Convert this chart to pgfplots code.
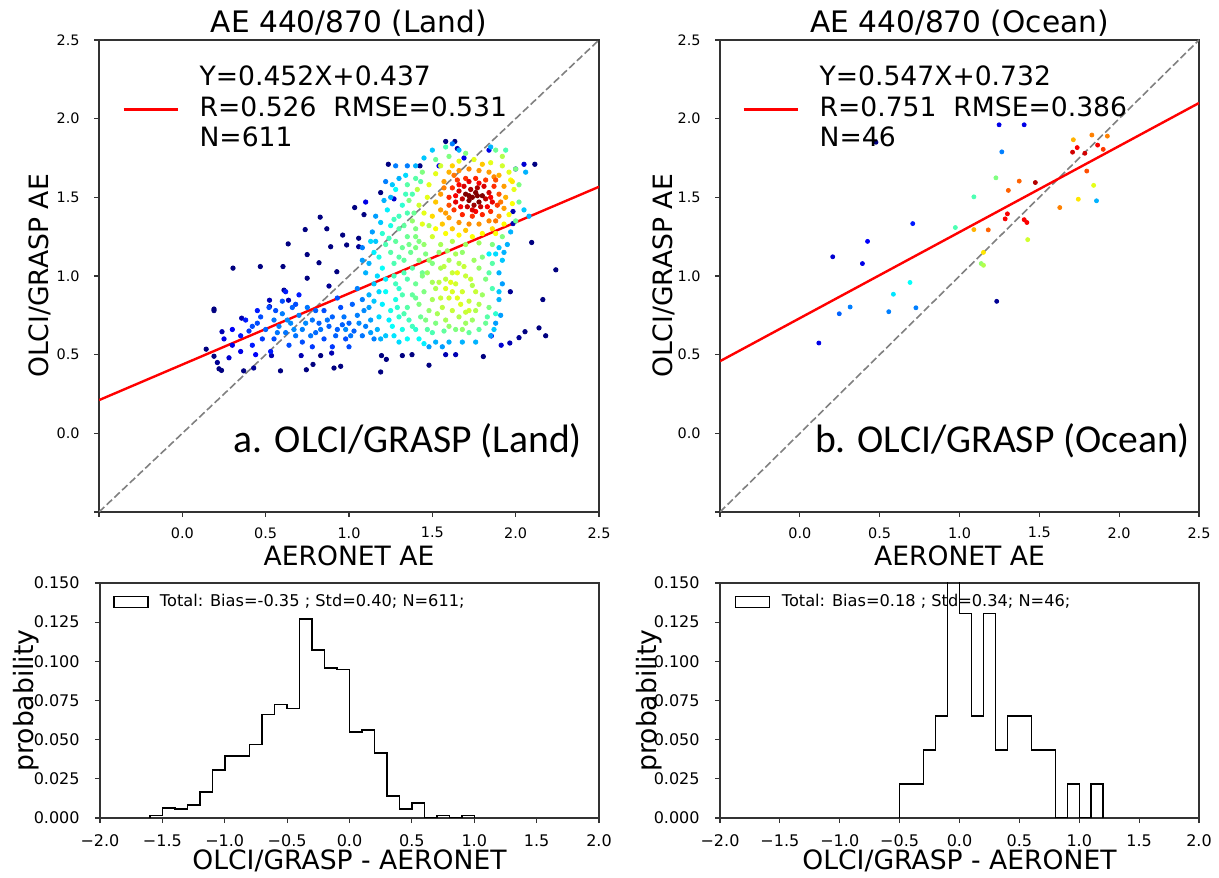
\documentclass[border=0pt]{standalone}
\usepackage{pgfplots}
\usepackage{pgfplotstable}
\pgfplotsset{compat=1.18}
\usepackage{fontspec}
\setmainfont{DejaVu Sans}
\newfontfamily\carlito{Carlito}

\pgfplotstableread{
x y c
1.58 1.855 0
1.635 1.855 0
1.65 1.81 0.05
1.426 1.70 0
1.54 1.70 0.1
1.69 1.75 0.1
1.84 1.80 0.1
2.05 1.71 0.08
2.00 1.68 0.1
2.115 1.71 0
1.236 1.71 0
1.19 1.53 0
1.27 1.49 0.08
1.034 1.435 0
1.09 1.39 0
0.827 1.374 0
0.737 1.295 0
0.867 1.30 0
0.635 1.204 0
0.962 1.26 0
0.986 1.197 0
1.058 1.24 0
1.058 1.186 0.02
0.89 1.186 0
0.749 1.136 0
0.82 1.084 0
0.304 1.05 0
0.468 1.06 0
0.604 1.06 0
0.927 1.027 0
0.749 0.986 0
0.61 0.91 0.02
0.88 0.936 0.02
0.523 0.846 0.05
0.523 0.805 0.05
0.637 0.846 0.05
0.19 0.79 0
0.19 0.78 0
0.356 0.732 0.05
0.238 0.646 0.05
0.143 0.535 0
0.19 0.49 0
0.21 0.45 0.02
0.22 0.41 0
0.235 0.40 0
0.368 0.397 0
0.428 0.415 0.02
0.535 0.494 0.05
0.589 0.397 0
0.713 0.494 0.05
0.744 0.404 0
0.784 0.438 0
0.83 0.494 0
0.91 0.415 0
0.95 0.426 0
0.896 0.51 0.05
1.195 0.494 0
1.224 0.47 0
1.19 0.39 0
1.32 0.494 0
1.378 0.5 0
1.48 0.433 0
1.58 0.50 0.05
1.64 0.50 0.05
1.806 0.488 0
1.854 0.619 0.1
1.913 0.56 0.08
1.965 0.574 0.05
2.02 0.608 0.02
2.056 0.646 0
2.14 0.67 0
2.18 0.62 0
2.163 0.85 0
1.968 0.90 0.02
2.096 1.213 0
2.241 1.039 0
1.984 1.333 0.05
1.984 1.41 0.05
1.10 1.47 0.1
0.35 0.62 0.15
0.40 0.65 0.18
0.45 0.70 0.2
0.50 0.66 0.22
0.55 0.72 0.24
0.58 0.68 0.25
0.60 0.76 0.25
0.62 0.64 0.24
0.65 0.70 0.26
0.68 0.62 0.24
0.70 0.75 0.25
0.72 0.66 0.25
0.75 0.80 0.24
0.78 0.72 0.24
0.80 0.64 0.23
0.82 0.70 0.22
0.85 0.60 0.2
0.88 0.68 0.22
0.90 0.74 0.22
0.93 0.66 0.22
0.96 0.69 0.22
0.98 0.60 0.2
1.00 0.70 0.22
1.03 0.65 0.22
1.05 0.75 0.25
1.08 0.62 0.24
1.10 0.68 0.25
1.12 0.80 0.28
1.15 0.60 0.25
1.02 0.82 0.22
0.95 0.80 0.2
0.85 0.78 0.2
0.52 0.80 0.2
0.48 0.60 0.18
0.42 0.56 0.15
0.38 0.72 0.15
0.30 0.66 0.12
0.25 0.60 0.1
0.55 0.60 0.2
0.64 0.56 0.2
0.72 0.58 0.2
0.78 0.55 0.18
0.90 0.55 0.18
1.00 0.55 0.2
0.60 0.84 0.2
0.66 0.80 0.22
0.45 0.78 0.15
0.53 0.52 0.15
0.44 0.50 0.12
0.35 0.52 0.1
0.30 0.56 0.1
0.28 0.48 0.08
0.62 0.90 0.15
0.70 0.88 0.15
1.08 0.85 0.25
1.05 0.92 0.25
0.42 0.68 0.2
0.47 0.74 0.2
0.57 0.64 0.24
0.63 0.72 0.26
0.67 0.66 0.26
0.74 0.70 0.26
0.77 0.62 0.24
0.83 0.66 0.24
0.87 0.72 0.24
0.92 0.62 0.22
0.97 0.74 0.24
1.01 0.62 0.24
1.06 0.70 0.26
1.09 0.78 0.26
0.68 0.82 0.2
0.56 0.78 0.2
0.80 0.78 0.22
0.93 0.86 0.2
1.13 0.64 0.28
0.98 0.66 0.26
1.92 1.10 0.32
1.90 1.02 0.3
1.92 0.95 0.28
1.90 0.85 0.3
1.91 0.75 0.28
1.88 0.70 0.28
1.85 0.62 0.28
1.76 0.58 0.3
1.68 0.58 0.3
1.60 0.58 0.3
1.52 0.58 0.3
1.48 0.55 0.28
1.56 0.55 0.28
1.95 1.20 0.3
1.97 1.28 0.3
1.93 1.15 0.3
1.90 1.18 0.32
1.88 1.14 0.34
1.40 1.70 0.3
1.30 1.62 0.3
1.25 1.50 0.3
1.45 1.75 0.32
1.50 1.80 0.32
1.35 1.70 0.25
1.28 1.70 0.25
1.22 1.60 0.25
1.62 1.84 0.25
1.66 1.80 0.3
1.85 1.82 0.3
2.06 1.66 0.3
2.05 1.42 0.32
2.08 1.38 0.3
1.14 1.28 0.28
1.16 1.38 0.28
1.08 1.18 0.25
1.15 0.84 0.32
1.18 0.90 0.34
1.17 1.00 0.34
1.12 1.08 0.3
1.16 1.22 0.32
1.19 1.34 0.32
1.21 1.48 0.3
1.26 1.58 0.32
1.24 0.72 0.36
1.19 0.60 0.3
1.27 0.62 0.35
1.84 1.14 0.36
1.87 0.66 0.32
1.90 0.90 0.32
1.34 1.64 0.34
1.30 0.92 0.42
1.28 0.85 0.4
1.25 0.78 0.4
1.30 0.74 0.42
1.32 0.66 0.4
1.26 0.68 0.38
1.22 0.90 0.38
1.20 0.82 0.36
1.18 0.74 0.34
1.22 0.98 0.36
1.15 0.95 0.32
1.12 0.88 0.3
1.10 1.02 0.3
1.08 1.10 0.28
1.40 0.66 0.42
1.42 0.60 0.38
1.35 0.60 0.38
1.30 0.58 0.34
1.45 0.57 0.36
1.22 0.62 0.32
1.17 0.66 0.3
1.13 0.72 0.28
1.35 0.98 0.45
1.33 1.02 0.45
1.20 1.27 0.42
1.22 1.20 0.45
1.25 1.15 0.46
1.28 1.22 0.47
1.30 1.30 0.46
1.32 1.18 0.48
1.33 1.10 0.47
1.35 1.25 0.48
1.37 1.15 0.48
1.38 1.05 0.46
1.40 1.18 0.5
1.42 1.10 0.5
1.44 1.02 0.48
1.46 1.14 0.5
1.30 1.38 0.44
1.25 1.32 0.4
1.35 1.40 0.45
1.27 1.08 0.45
1.18 1.12 0.4
1.20 1.05 0.38
1.15 1.15 0.36
1.13 1.22 0.34
1.40 1.30 0.5
1.50 1.08 0.5
1.48 1.32 0.54
1.32 1.45 0.42
1.38 1.52 0.45
1.43 1.60 0.46
1.28 1.55 0.38
1.23 1.42 0.36
1.28 0.95 0.44
1.32 0.88 0.45
1.33 0.76 0.45
1.38 0.68 0.44
1.29 0.80 0.42
1.27 1.00 0.44
1.30 1.12 0.46
1.24 1.24 0.44
1.27 1.36 0.44
1.33 1.32 0.47
1.36 1.20 0.49
1.42 1.22 0.5
1.39 1.40 0.48
1.34 1.52 0.44
1.40 1.62 0.46
1.43 0.74 0.48
1.40 0.86 0.48
1.47 0.66 0.46
1.83 0.74 0.46
1.84 1.02 0.46
1.55 1.05 0.54
1.58 0.98 0.56
1.60 1.10 0.54
1.62 1.02 0.57
1.64 0.95 0.58
1.66 1.08 0.55
1.68 0.90 0.58
1.70 1.00 0.57
1.72 0.84 0.57
1.74 0.94 0.55
1.76 0.78 0.55
1.78 1.05 0.52
1.80 0.88 0.53
1.60 0.86 0.58
1.62 0.78 0.57
1.56 0.80 0.56
1.58 0.72 0.54
1.66 0.74 0.55
1.70 0.70 0.53
1.74 0.72 0.53
1.52 0.92 0.55
1.50 0.85 0.54
1.48 0.78 0.52
1.45 0.90 0.5
1.42 0.82 0.5
1.46 0.72 0.5
1.52 0.70 0.5
1.40 0.95 0.48
1.38 0.88 0.47
1.35 0.80 0.46
1.36 0.72 0.44
1.54 1.15 0.52
1.68 1.15 0.52
1.82 0.98 0.5
1.84 0.80 0.5
1.82 0.70 0.48
1.80 1.12 0.5
1.86 1.08 0.46
1.64 0.66 0.5
1.57 0.65 0.47
1.50 0.64 0.45
1.72 0.64 0.47
1.78 0.66 0.47
1.86 0.92 0.45
1.88 0.76 0.42
1.44 1.00 0.5
1.54 0.96 0.56
1.57 1.06 0.56
1.61 0.96 0.6
1.65 1.02 0.6
1.69 1.06 0.57
1.73 0.98 0.57
1.76 0.90 0.57
1.78 0.82 0.55
1.72 0.78 0.58
1.65 0.86 0.6
1.55 0.86 0.57
1.53 0.76 0.54
1.60 0.68 0.52
1.68 0.66 0.52
1.75 1.10 0.53
1.64 1.14 0.54
1.59 1.16 0.53
1.48 1.10 0.52
1.50 0.96 0.54
1.47 1.02 0.53
1.62 0.90 0.59
1.67 0.82 0.59
1.58 0.92 0.59
1.70 0.77 0.57
1.38 1.35 0.52
1.40 1.25 0.5
1.45 1.20 0.52
1.55 1.20 0.54
1.62 1.22 0.55
1.70 1.20 0.53
1.78 1.21 0.53
1.86 1.20 0.5
1.92 1.25 0.5
2.00 1.35 0.48
2.02 1.47 0.48
2.02 1.58 0.5
2.00 1.68 0.5
1.94 1.80 0.45
1.88 1.80 0.48
1.70 1.78 0.5
1.60 1.76 0.5
1.52 1.74 0.48
1.44 1.66 0.5
1.36 1.48 0.5
1.35 1.58 0.46
1.58 1.82 0.45
1.45 1.40 0.6
1.47 1.50 0.6
1.48 1.58 0.6
1.52 1.65 0.6
1.55 1.70 0.58
1.66 1.73 0.6
1.75 1.74 0.6
1.85 1.72 0.6
1.92 1.70 0.58
1.96 1.66 0.6
1.99 1.55 0.6
1.98 1.46 0.62
1.96 1.39 0.62
1.93 1.33 0.63
1.88 1.27 0.62
1.80 1.27 0.63
1.74 1.25 0.62
1.66 1.26 0.63
1.58 1.27 0.62
1.52 1.30 0.62
1.44 1.33 0.6
1.42 1.45 0.58
1.41 1.55 0.56
1.50 1.25 0.58
1.97 1.61 0.62
1.92 1.76 0.55
1.55 1.52 0.72
1.55 1.42 0.72
1.57 1.60 0.72
1.60 1.66 0.7
1.66 1.67 0.73
1.72 1.68 0.74
1.78 1.67 0.73
1.84 1.66 0.72
1.90 1.64 0.7
1.93 1.57 0.72
1.94 1.50 0.7
1.93 1.43 0.72
1.90 1.38 0.73
1.84 1.35 0.74
1.78 1.33 0.73
1.72 1.33 0.74
1.66 1.34 0.73
1.60 1.37 0.72
1.52 1.47 0.68
1.50 1.38 0.66
1.56 1.33 0.68
1.62 1.30 0.68
1.70 1.29 0.68
1.86 1.30 0.66
1.62 1.70 0.67
1.80 1.71 0.68
1.98 1.60 0.65
1.58 1.40 0.72
1.57 1.56 0.75
1.63 1.64 0.76
1.87 1.63 0.74
1.91 1.47 0.76
1.88 1.35 0.76
1.60 1.50 0.84
1.62 1.56 0.83
1.65 1.61 0.82
1.70 1.62 0.83
1.76 1.62 0.84
1.82 1.61 0.82
1.87 1.57 0.83
1.90 1.52 0.8
1.89 1.45 0.82
1.85 1.41 0.83
1.80 1.39 0.84
1.74 1.38 0.83
1.68 1.39 0.84
1.63 1.42 0.82
1.60 1.45 0.8
1.67 1.44 0.88
1.83 1.44 0.88
1.78 1.59 0.88
1.66 1.58 0.87
1.88 1.61 0.8
1.64 1.51 0.88
1.85 1.50 0.88
1.76 1.41 0.88
1.72 1.60 0.9
1.68 1.49 0.94
1.82 1.49 0.94
1.84 1.53 0.92
1.66 1.54 0.92
1.69 1.57 0.91
1.81 1.57 0.91
1.86 1.47 0.9
1.64 1.47 0.9
1.74 1.42 0.91
1.71 1.44 0.93
1.79 1.44 0.93
1.73 1.55 0.96
1.77 1.56 0.96
1.75 1.45 0.97
1.70 1.52 1.0
1.72 1.48 1.0
1.74 1.50 1.0
1.76 1.53 1.0
1.78 1.47 1.0
1.80 1.51 1.0
1.77 1.51 1.0
1.72 1.51 1.0
}\landdata

\pgfplotstableread{
x y c
0.477 1.85 0
1.233 0.839 0.02
0.206 1.122 0.08
0.392 1.079 0.1
0.119 0.574 0.1
1.248 1.961 0.1
1.405 1.961 0.1
0.424 1.22 0.12
0.707 1.333 0.15
0.247 0.76 0.22
0.315 0.803 0.25
0.557 0.773 0.25
0.727 0.798 0.25
1.265 1.789 0.25
1.858 1.478 0.3
0.586 0.884 0.35
0.69 0.959 0.38
1.09 1.503 0.45
0.974 1.308 0.45
1.228 1.624 0.5
1.136 1.079 0.52
1.15 1.068 0.55
1.427 1.231 0.58
1.84 1.576 0.6
1.744 1.488 0.65
1.15 1.15 0.65
1.713 1.866 0.7
1.09 1.295 0.7
1.829 1.896 0.75
1.926 1.889 0.75
1.628 1.435 0.75
1.374 1.603 0.78
1.306 1.544 0.78
1.18 1.293 0.78
1.797 1.667 0.8
1.90 1.805 0.82
1.737 1.816 0.88
1.865 1.832 0.88
1.30 1.395 0.88
1.286 1.363 0.88
1.405 1.358 0.88
1.422 1.34 0.88
1.708 1.787 0.92
1.785 1.78 0.92
1.475 1.594 0.95
}\oceandata

\pgfplotsset{
  common/.style={
    scale only axis,
    tick align=outside,
    xtick pos=left, ytick pos=left,
    major tick length=2.5pt,
    axis line style={black!80, line width=0.6pt},
    tick style={black!80, line width=0.6pt},
    label style={font=\fontsize{13.3}{15}\selectfont},
    ylabel style={anchor=center},
  },
  scat/.style={
    common,
    height=236pt,
    xmin=-0.5, xmax=2.5, ymin=-0.5, ymax=2.5,
    xtick={-0.5,0,0.5,1,1.5,2,2.5},
    xticklabels={,0.0,0.5,1.0,1.5,2.0,2.5},
    ytick={-0.5,0,0.5,1,1.5,2,2.5},
    yticklabels={,0.0,0.5,1.0,1.5,2.0,2.5},
    tick label style={font=\fontsize{7.2}{8}\selectfont},
    xticklabel style={inner sep=0pt, anchor=north, yshift=-5pt},
    yticklabel style={inner sep=0pt, anchor=east, xshift=-7pt},
    title style={font=\fontsize{14.8}{17}\selectfont, at={(0.5,1)}, anchor=base, yshift=-2.5pt},
    xlabel style={at={(axis description cs:0.5,0)}, anchor=base, yshift=-27pt},
    xlabel={AERONET AE},
    ylabel={OLCI/GRASP AE},
    colormap/jet, point meta min=0, point meta max=1,
    legend cell align=left,
    legend style={draw=none, fill=none, anchor=west, inner sep=0pt,
      font=\fontsize{13.3}{15}\selectfont,
      nodes={inner sep=0pt, text height=10pt, text depth=3pt},
      row sep=2.25pt},
    legend image code/.code={\draw[##1] (0pt,0pt) -- (27pt,0pt); \path[draw=none] (0pt,0pt) -- (38pt,0pt);},
  },
  hist/.style={
    common,
    height=117.5pt,
    xmin=-2, xmax=2, ymin=0, ymax=0.15,
    xtick={-2,-1.5,-1,-0.5,0,0.5,1,1.5,2},
    xticklabels={−2.0,−1.5,−1.0,−0.5,0.0,0.5,1.0,1.5,2.0},
    ytick={0,0.025,0.05,0.075,0.1,0.125,0.15},
    yticklabels={0.000,0.025,0.050,0.075,0.100,0.125,0.150},
    tick label style={font=\fontsize{8}{9}\selectfont},
    xticklabel style={inner sep=0pt, anchor=north, yshift=-5.6pt},
    yticklabel style={inner sep=0pt, anchor=east, xshift=-7.5pt},
    xlabel style={at={(axis description cs:0.5,0)}, anchor=base, yshift=-25.5pt},
    xlabel={OLCI/GRASP - AERONET},
    ylabel={probability},
    legend cell align=left,
    legend style={draw=none, fill=none, anchor=west, inner sep=0pt,
      font=\fontsize{8.1}{9.5}\selectfont,
      nodes={inner sep=0pt}},
    legend image code/.code={\draw[black, fill=white, line width=0.6pt] (0pt,-2.75pt) rectangle (17pt,2.75pt); \path[draw=none] (0pt,0pt) -- (23pt,0pt);},
  },
}

\begin{document}
\begin{tikzpicture}
\useasboundingbox (0pt,0pt) rectangle (609.5pt,438.5pt);

% ---- Land scatter ----
\begin{axis}[scat, width=250pt, at={(49.5pt,182.5pt)}, anchor=south west,
  title={AE 440/870 (Land)},
  ylabel style={at={(axis description cs:-0.118,0.5)}},
  legend style={at={(axis description cs:0.046,0.853)}}]
\addlegendimage{empty legend}
\addlegendentry{Y=0.452X+0.437}
\addplot[scatter, only marks, mark=*, mark size=1.1pt, scatter/use mapped color={draw=mapped color, fill=mapped color}, point meta=explicit, forget plot]
  table[x=x, y=y, meta=c] {\landdata};
\addplot[gray, line width=0.8pt, dash pattern=on 3.7pt off 1.6pt, forget plot] coordinates {(-0.5,-0.5) (2.5,2.5)};
\addplot[red, line width=1.2pt] coordinates {(-0.5,0.211) (2.5,1.567)};
\addlegendentry{R=0.526\ \ RMSE=0.531}
\addlegendimage{empty legend}
\addlegendentry{N=611}
\node[anchor=base east, font=\carlito\fontsize{19.8}{22}\selectfont] at (rel axis cs:0.98,0.125) {a. OLCI/GRASP (Land)};
\end{axis}

% ---- Ocean scatter ----
\begin{axis}[scat, width=239.5pt, at={(360pt,182.5pt)}, anchor=south west,
  title={AE 440/870 (Ocean)},
  ylabel style={at={(axis description cs:-0.117,0.5)}},
  legend style={at={(axis description cs:0.046,0.853)}}]
\addlegendimage{empty legend}
\addlegendentry{Y=0.547X+0.732}
\addplot[scatter, only marks, mark=*, mark size=1.0pt, scatter/use mapped color={draw=mapped color, fill=mapped color}, point meta=explicit, forget plot]
  table[x=x, y=y, meta=c] {\oceandata};
\addplot[gray, line width=0.8pt, dash pattern=on 3.7pt off 1.6pt, forget plot] coordinates {(-0.5,-0.5) (2.5,2.5)};
\addplot[red, line width=1.2pt] coordinates {(-0.5,0.4585) (2.5,2.0995)};
\addlegendentry{R=0.751\ \ RMSE=0.386}
\addlegendimage{empty legend}
\addlegendentry{N=46}
\node[anchor=base east, font=\carlito\fontsize{19.8}{22}\selectfont] at (rel axis cs:0.996,0.125) {b. OLCI/GRASP (Ocean)};
\end{axis}

% ---- Land histogram ----
\begin{axis}[hist, width=249.5pt, at={(50pt,29.5pt)}, anchor=south west,
  ylabel style={at={(axis description cs:-0.148,0.5)}},
  legend style={at={(axis description cs:0.026,0.919)}}]
\addplot[const plot, black, line width=0.75pt] coordinates {
(-1.6,0) (-1.6,0.0016) (-1.5,0.0064) (-1.4,0.0058) (-1.3,0.0083) (-1.2,0.0166)
(-1.1,0.0305) (-1.0,0.0395) (-0.9,0.0395) (-0.8,0.0469) (-0.7,0.0661) (-0.6,0.0725)
(-0.5,0.0698) (-0.4,0.1270) (-0.3,0.1073) (-0.2,0.0958) (-0.1,0.0949) (0.0,0.0550)
(0.1,0.0561) (0.2,0.0416) (0.3,0.0139) (0.4,0.0058) (0.5,0.0096) (0.6,0)
(0.7,0.0016) (0.8,0) (0.9,0.0016) (1.0,0.0016) (1.0,0)};
\addlegendentry{Total: Bias=-0.35 ; Std=0.40; N=611;}
\end{axis}

% ---- Ocean histogram ----
\begin{axis}[hist, width=239.5pt, at={(360pt,29.5pt)}, anchor=south west,
  ylabel style={at={(axis description cs:-0.148,0.5)}},
  legend style={at={(axis description cs:0.031,0.919)}}]
\addplot[const plot, black, line width=0.75pt] coordinates {
(-0.5,0) (-0.5,0.0217) (-0.4,0.0217) (-0.3,0.0435) (-0.2,0.0652) (-0.1,0.2174)
(0.0,0.1304) (0.1,0.0652) (0.2,0.1304) (0.3,0.0435) (0.4,0.0652) (0.5,0.0652)
(0.6,0.0435) (0.7,0.0435) (0.8,0) (0.9,0.0217) (1.0,0) (1.1,0.0217) (1.2,0.0217) (1.2,0)};
\addlegendentry{Total: Bias=0.18 ; Std=0.34; N=46;}
\end{axis}
\end{tikzpicture}
\end{document}
